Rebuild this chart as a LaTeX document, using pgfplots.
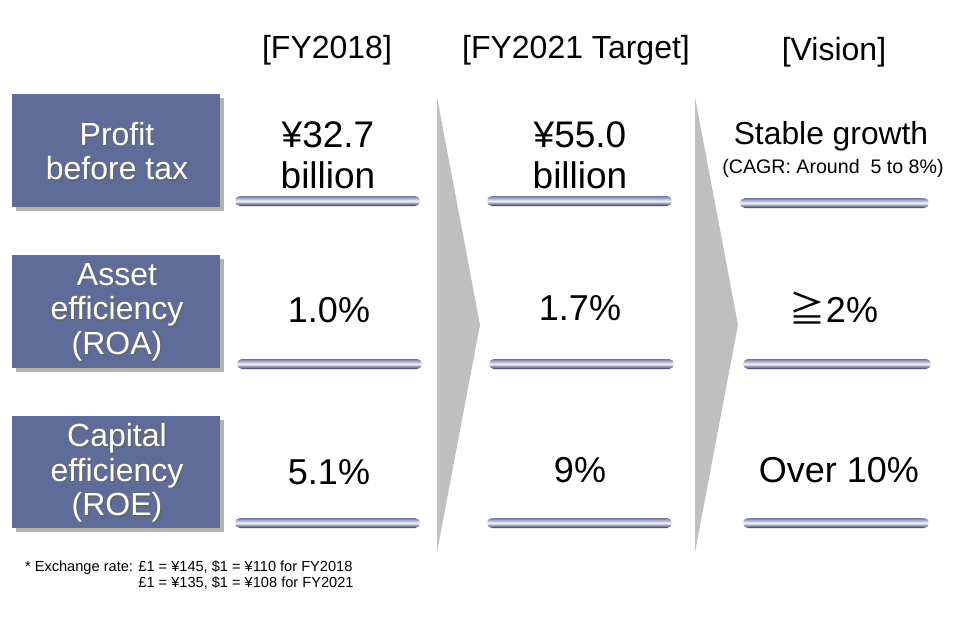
\documentclass[border=0pt]{standalone}
\usepackage{pgfplots}
\pgfplotsset{compat=1.18}
\usepackage{fontspec}
\setmainfont{Liberation Sans}
\newfontfamily\jp{Noto Sans CJK JP}
\definecolor{boxc}{RGB}{95,107,153}
\definecolor{arrc}{RGB}{191,191,191}
\definecolor{bartop}{RGB}{110,118,165}
\definecolor{barbot}{RGB}{38,48,100}
\newcommand{\ubar}[3]{%
  \shade[top color=bartop, bottom color=barbot, middle color=white!92!bartop, rounded corners=2.5pt]
    (axis cs:#1,#3-5) rectangle (axis cs:#2,#3+5);}
\newcommand{\lbox}[3]{%
  \fill[black!30] (axis cs:#1+4,#2+4) rectangle (axis cs:220+4,#3+4);
  \fill[boxc] (axis cs:#1,#2) rectangle (axis cs:220,#3);}
\newcommand{\wtext}[3]{%
  \node[align=center, font=\fontsize{16}{17.3}\selectfont, text=black!60] at (axis cs:#1+1.5,#2+1.5) {#3};
  \node[align=center, font=\fontsize{16}{17.3}\selectfont, text=white] at (axis cs:#1,#2) {#3};}
\begin{document}
\begin{tikzpicture}
\begin{axis}[width=480pt,height=310.5pt,scale only axis,
  xmin=0,xmax=960,ymin=0,ymax=621,y dir=reverse,hide axis,clip=false]
\path (axis cs:0,0) rectangle (axis cs:960,621);
% arrows
\addplot[fill=arrc, draw=none] coordinates {(437,97) (480,325) (437,552) (437,97)};
\addplot[fill=arrc, draw=none] coordinates {(695,97) (738,325) (695,552) (695,97)};
% boxes
\lbox{12}{94}{207}
\lbox{12}{255}{368}
\lbox{12}{416}{528}
\wtext{117}{151}{Profit\\before tax}
\wtext{117}{312}{Asset\\efficiency\\(ROA)}
\wtext{117}{473}{Capital\\efficiency\\(ROE)}
% headers
\node[font=\fontsize{16}{19}\selectfont] at (axis cs:327,50) {[FY2018]};
\node[font=\fontsize{16}{19}\selectfont] at (axis cs:576,50) {[FY2021 Target]};
\node[font=\fontsize{16}{19}\selectfont] at (axis cs:834,52) {[Vision]};
% values
\node[align=center,font=\fontsize{18.5}{20.5}\selectfont] at (axis cs:328,155) {¥32.7\\billion};
\node[align=center,font=\fontsize{18.5}{20.5}\selectfont] at (axis cs:580,155) {¥55.0\\billion};
\node[font=\fontsize{15.9}{18}\selectfont] at (axis cs:831,136) {Stable growth};
\node[font=\fontsize{9.8}{11}\selectfont] at (axis cs:833,168) {(CAGR:\ Around\ \ 5 to 8\%)};
\node[font=\fontsize{18}{20}\selectfont] at (axis cs:329,310) {1.0\%};
\node[font=\fontsize{18}{20}\selectfont] at (axis cs:580,308) {1.7\%};
\node[font=\fontsize{18}{20}\selectfont] at (axis cs:834,308) {{\jp ≧}2\%};
\node[font=\fontsize{18}{20}\selectfont] at (axis cs:329,472) {5.1\%};
\node[font=\fontsize{18}{20}\selectfont] at (axis cs:580,470) {9\%};
\node[font=\fontsize{18}{20}\selectfont] at (axis cs:839,470) {Over 10\%};
% underline bars
\ubar{235}{420}{201}
\ubar{487}{672}{201}
\ubar{740}{929}{203}
\ubar{237}{422}{364}
\ubar{489}{674}{364}
\ubar{743}{931}{364}
\ubar{235}{420}{523}
\ubar{487}{672}{523}
\ubar{743}{929}{523}
% footnote
\node[anchor=west,font=\fontsize{7.3}{8}\selectfont,align=left] at (axis cs:18,576)
  {* Exchange rate: £1 = ¥145, \$1 = ¥110 for FY2018\\
   \phantom{* Exchange rate: }£1 = ¥135, \$1 = ¥108 for FY2021};
\end{axis}
\end{tikzpicture}
\end{document}
